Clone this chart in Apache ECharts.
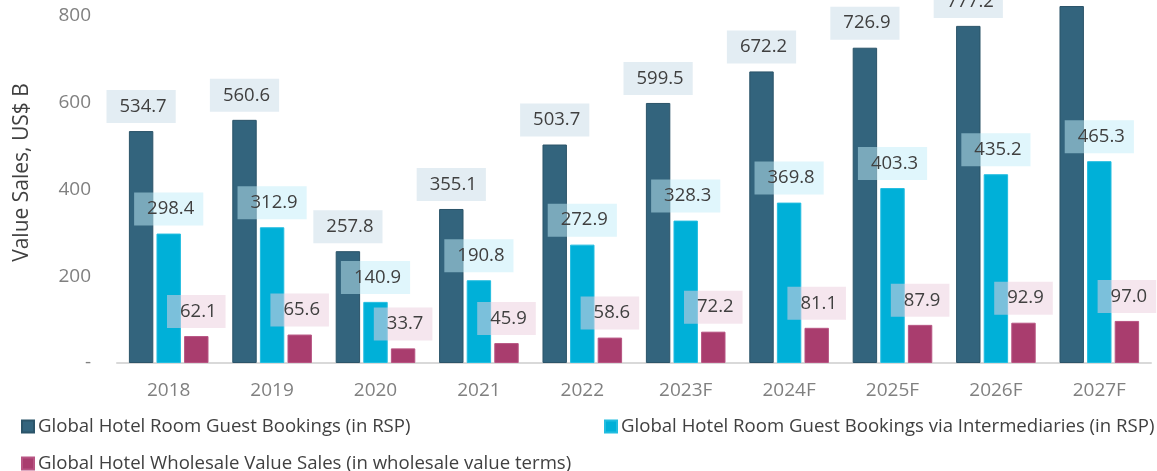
<!DOCTYPE html>
<html>
<head>
<meta charset="utf-8">
<script src="https://cdn.jsdelivr.net/npm/echarts@6/dist/echarts.min.js"></script>
<style>
html,body{margin:0;padding:0;background:#fff;}
#chart{width:1157px;height:471px;}
</style>
</head>
<body>
<div id="chart"></div>
<script>
const categories = ['2018','2019','2020','2021','2022','2023F','2024F','2025F','2026F','2027F'];
const roomBookings = [534.7, 560.6, 257.8, 355.1, 503.7, 599.5, 672.2, 726.9, 777.2, 823.0];
const intermediaries = [298.4, 312.9, 140.9, 190.8, 272.9, 328.3, 369.8, 403.3, 435.2, 465.3];
const wholesale = [62.1, 65.6, 33.7, 45.9, 58.6, 72.2, 81.1, 87.9, 92.9, 97.0];
const seriesNames = [
  'Global Hotel Room Guest Bookings (in RSP)',
  'Global Hotel Room Guest Bookings via Intermediaries (in RSP)',
  'Global Hotel Wholesale Value Sales (in wholesale value terms)'
];
const yTicks = [0, 200, 400, 600, 800];

const FONT = '"Open Sans", "DejaVu Sans", sans-serif';
const chart = echarts.init(document.getElementById('chart'));

function lbl(bg) {
  return {
    show: true,
    position: 'top',
    distance: 8,
    color: '#404040',
    fontSize: 18.5,
    fontFamily: FONT,
    lineHeight: 19,
    backgroundColor: bg,
    padding: [7, 9, 7, 13],
    formatter: p => p.value.toFixed(1)
  };
}

const legendCommon = {
  icon: 'rect',
  itemWidth: 12,
  itemHeight: 12,
  itemGap: 10,
  textStyle: { color: '#404040', fontSize: 18.6, fontFamily: FONT, padding: [0,0,0,-1] },
  selectedMode: false
};

chart.setOption({
  animation: false,
  grid: { left: 117, right: 6, top: 16, bottom: 108, containLabel: false },
  legend: [
    Object.assign({ data: [seriesNames[0]], left: 16, top: 412 }, legendCommon),
    Object.assign({ data: [seriesNames[1]], left: 599, top: 412 }, legendCommon),
    Object.assign({ data: [seriesNames[2]], left: 16, top: 449 }, legendCommon)
  ],
  xAxis: {
    type: 'category',
    data: categories,
    axisTick: { show: false },
    axisLine: { lineStyle: { color: '#d9d9d9', width: 2 } },
    axisLabel: { color: '#808080', fontSize: 19, fontFamily: FONT, margin: 18 }
  },
  yAxis: {
    type: 'value',
    min: 0,
    max: 800,
    interval: 200,
    name: 'Value Sales, US$ B',
    nameLocation: 'middle',
    nameGap: 84,
    nameTextStyle: { color: '#404040', fontSize: 21, fontFamily: FONT, padding: [0, 0, 0, 34] },
    splitLine: { show: false },
    axisLine: { show: false },
    axisTick: { show: false },
    axisLabel: {
      color: '#808080', fontSize: 19, fontFamily: FONT, margin: 26,
      formatter: v => (v === 0 ? '-' : String(v))
    }
  },
  series: [
    {
      name: seriesNames[0], type: 'bar', data: roomBookings, clip: false,
      barGap: '13%', barCategoryGap: '23%',
      itemStyle: { color: '#33647d', borderColor: '#2b5469', borderWidth: 1 },
      label: lbl('rgba(200,220,232,0.5)')
    },
    {
      name: seriesNames[1], type: 'bar', data: intermediaries, clip: false,
      barGap: '13%', barCategoryGap: '23%',
      itemStyle: { color: '#00b0d8', borderColor: '#22bde0', borderWidth: 1 },
      label: lbl('rgba(194,237,249,0.5)')
    },
    {
      name: seriesNames[2], type: 'bar', data: wholesale, clip: false,
      barGap: '13%', barCategoryGap: '23%',
      itemStyle: { color: '#a93d6e', borderColor: '#b85583', borderWidth: 1 },
      label: lbl('rgba(236,207,222,0.52)')
    }
  ]
});
</script>
</body>
</html>
